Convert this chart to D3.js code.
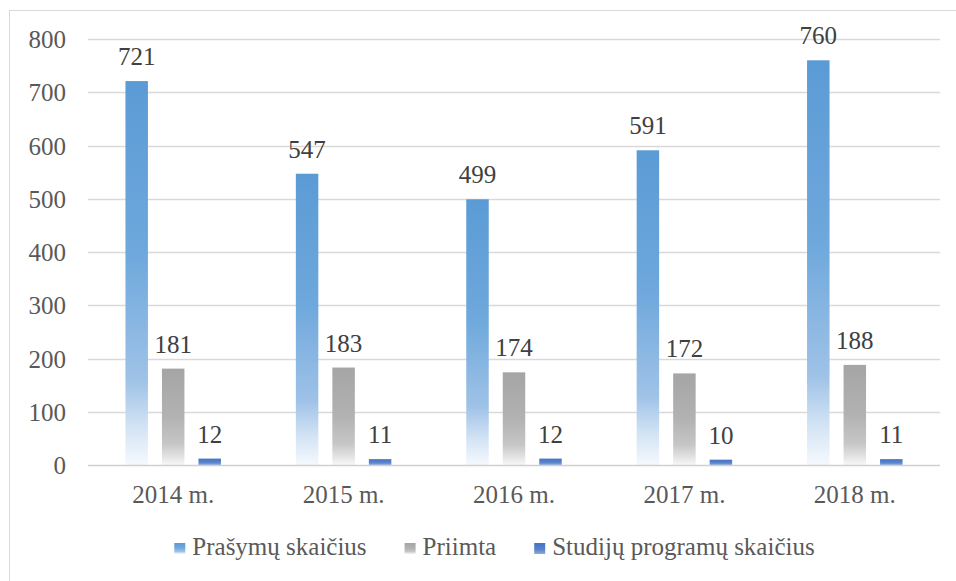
<!DOCTYPE html>
<html><head><meta charset="utf-8">
<script src="https://cdn.jsdelivr.net/npm/d3@7"></script>
<style>body{margin:0;background:#fff}svg{display:block}text{font-family:"Liberation Serif",serif}</style>
</head><body><svg id="c" width="956" height="581"></svg>
<script>
const categories = ["2014 m.", "2015 m.", "2016 m.", "2017 m.", "2018 m."];
const seriesNames = ["Prašymų skaičius", "Priimta", "Studijų programų skaičius"];
const prasymai = [721, 547, 499, 591, 760];
const priimta = [181, 183, 174, 172, 188];
const programos = [12, 11, 12, 10, 11];
const yTicks = [0, 100, 200, 300, 400, 500, 600, 700, 800];

(function () {
const seriesValues = [prasymai, priimta, programos];
const svg = d3.select("#c");
const pLeft = 88, pRight = 940, pTop = 39, pBottom = 465;

// frame
svg.append("rect").attr("x", 9.5).attr("y", 10.5).attr("width", 990).attr("height", 620)
  .attr("fill", "none").attr("stroke", "#d9d9d9").attr("stroke-width", 1);

// gradients
const defs = svg.append("defs");
const grads = [
  {id: "g0", stops: [[0, "#5b9bd5"], [0.45, "#6ea8dc"], [0.78, "#9fc2e7"], [0.9, "#d2e3f4"], [1, "#f5f9fd"]]},
  {id: "g1", stops: [[0, "#a5a5a5"], [0.5, "#b2b2b2"], [0.78, "#c6c6c6"], [0.9, "#e0e0e0"], [1, "#f7f7f7"]]},
  {id: "g2", stops: [[0, "#4472c4"], [0.6, "#5a84cc"], [1, "#8eaade"]]}
];
grads.forEach(g => {
  const lgr = defs.append("linearGradient").attr("id", g.id).attr("x1", 0).attr("y1", 0).attr("x2", 0).attr("y2", 1);
  g.stops.forEach(s => lgr.append("stop").attr("offset", s[0]).attr("stop-color", s[1]));
});

const x = d3.scaleBand().domain(categories).range([pLeft, pRight]).padding(0);
const xi = d3.scaleBand().domain(seriesNames).range([0, x.bandwidth()]).paddingInner(0.384).paddingOuter(1.026);
const y = d3.scaleLinear().domain([0, 800]).range([pBottom, pTop]);

// gridlines
svg.append("g").selectAll("line").data(yTicks.filter(d => d > 0)).join("line")
  .attr("x1", pLeft).attr("x2", pRight)
  .attr("y1", d => Math.round(y(d)) + 0.5).attr("y2", d => Math.round(y(d)) + 0.5)
  .attr("stroke", "#d9d9d9").attr("stroke-width", 1.3);

// y axis labels
const yAxis = d3.axisLeft(y).tickValues(yTicks).tickSize(0).tickPadding(0);
const yg = svg.append("g").attr("transform", `translate(66,0)`).call(yAxis);
yg.select(".domain").remove();
yg.selectAll("text").attr("font-size", 25).attr("fill", "#595959").attr("font-family", "Liberation Serif").attr("dy", "0.34em");

// bars
seriesValues.forEach((vals, si) => {
  const g = svg.append("g");
  g.selectAll("rect").data(vals).join("rect")
    .attr("x", (d, i) => x(categories[i]) + xi(seriesNames[si]))
    .attr("width", xi.bandwidth())
    .attr("y", d => y(d))
    .attr("height", d => y(0) - y(d))
    .attr("fill", `url(#g${si})`);
  g.selectAll("text").data(vals).join("text")
    .attr("x", (d, i) => x(categories[i]) + xi(seriesNames[si]) + xi.bandwidth() / 2)
    .attr("y", d => y(d) - 16)
    .attr("text-anchor", "middle")
    .attr("font-size", 25).attr("fill", "#404040")
    .text(d => d);
});

// baseline
svg.append("line").attr("x1", pLeft).attr("x2", pRight).attr("y1", pBottom + 0.5).attr("y2", pBottom + 0.5)
  .attr("stroke", "#d0d0d0").attr("stroke-width", 1.5);

// x axis labels
const xAxis = d3.axisBottom(x).tickSize(0).tickPadding(0);
const xg = svg.append("g").attr("transform", `translate(0,503)`).call(xAxis);
xg.select(".domain").remove();
xg.selectAll("text").attr("font-size", 25).attr("fill", "#595959").attr("font-family", "Liberation Serif").attr("dy", 0);

// legend
const lg = svg.append("g");
let cx = 0;
seriesNames.forEach((n, i) => {
  const it = lg.append("g");
  it.append("rect").attr("x", 0).attr("y", 543).attr("width", 11).attr("height", 11).attr("fill", `url(#g${i})`);
  const t = it.append("text").attr("x", 18).attr("y", 555).attr("font-size", 25).attr("fill", "#595959").text(n);
  const w = 18 + t.node().getComputedTextLength();
  it.attr("transform", `translate(${cx},0)`);
  cx += w + 38;
});
const totalW = cx - 38;
lg.attr("transform", `translate(${494.5 - totalW / 2},0)`);
})();
</script></body></html>
